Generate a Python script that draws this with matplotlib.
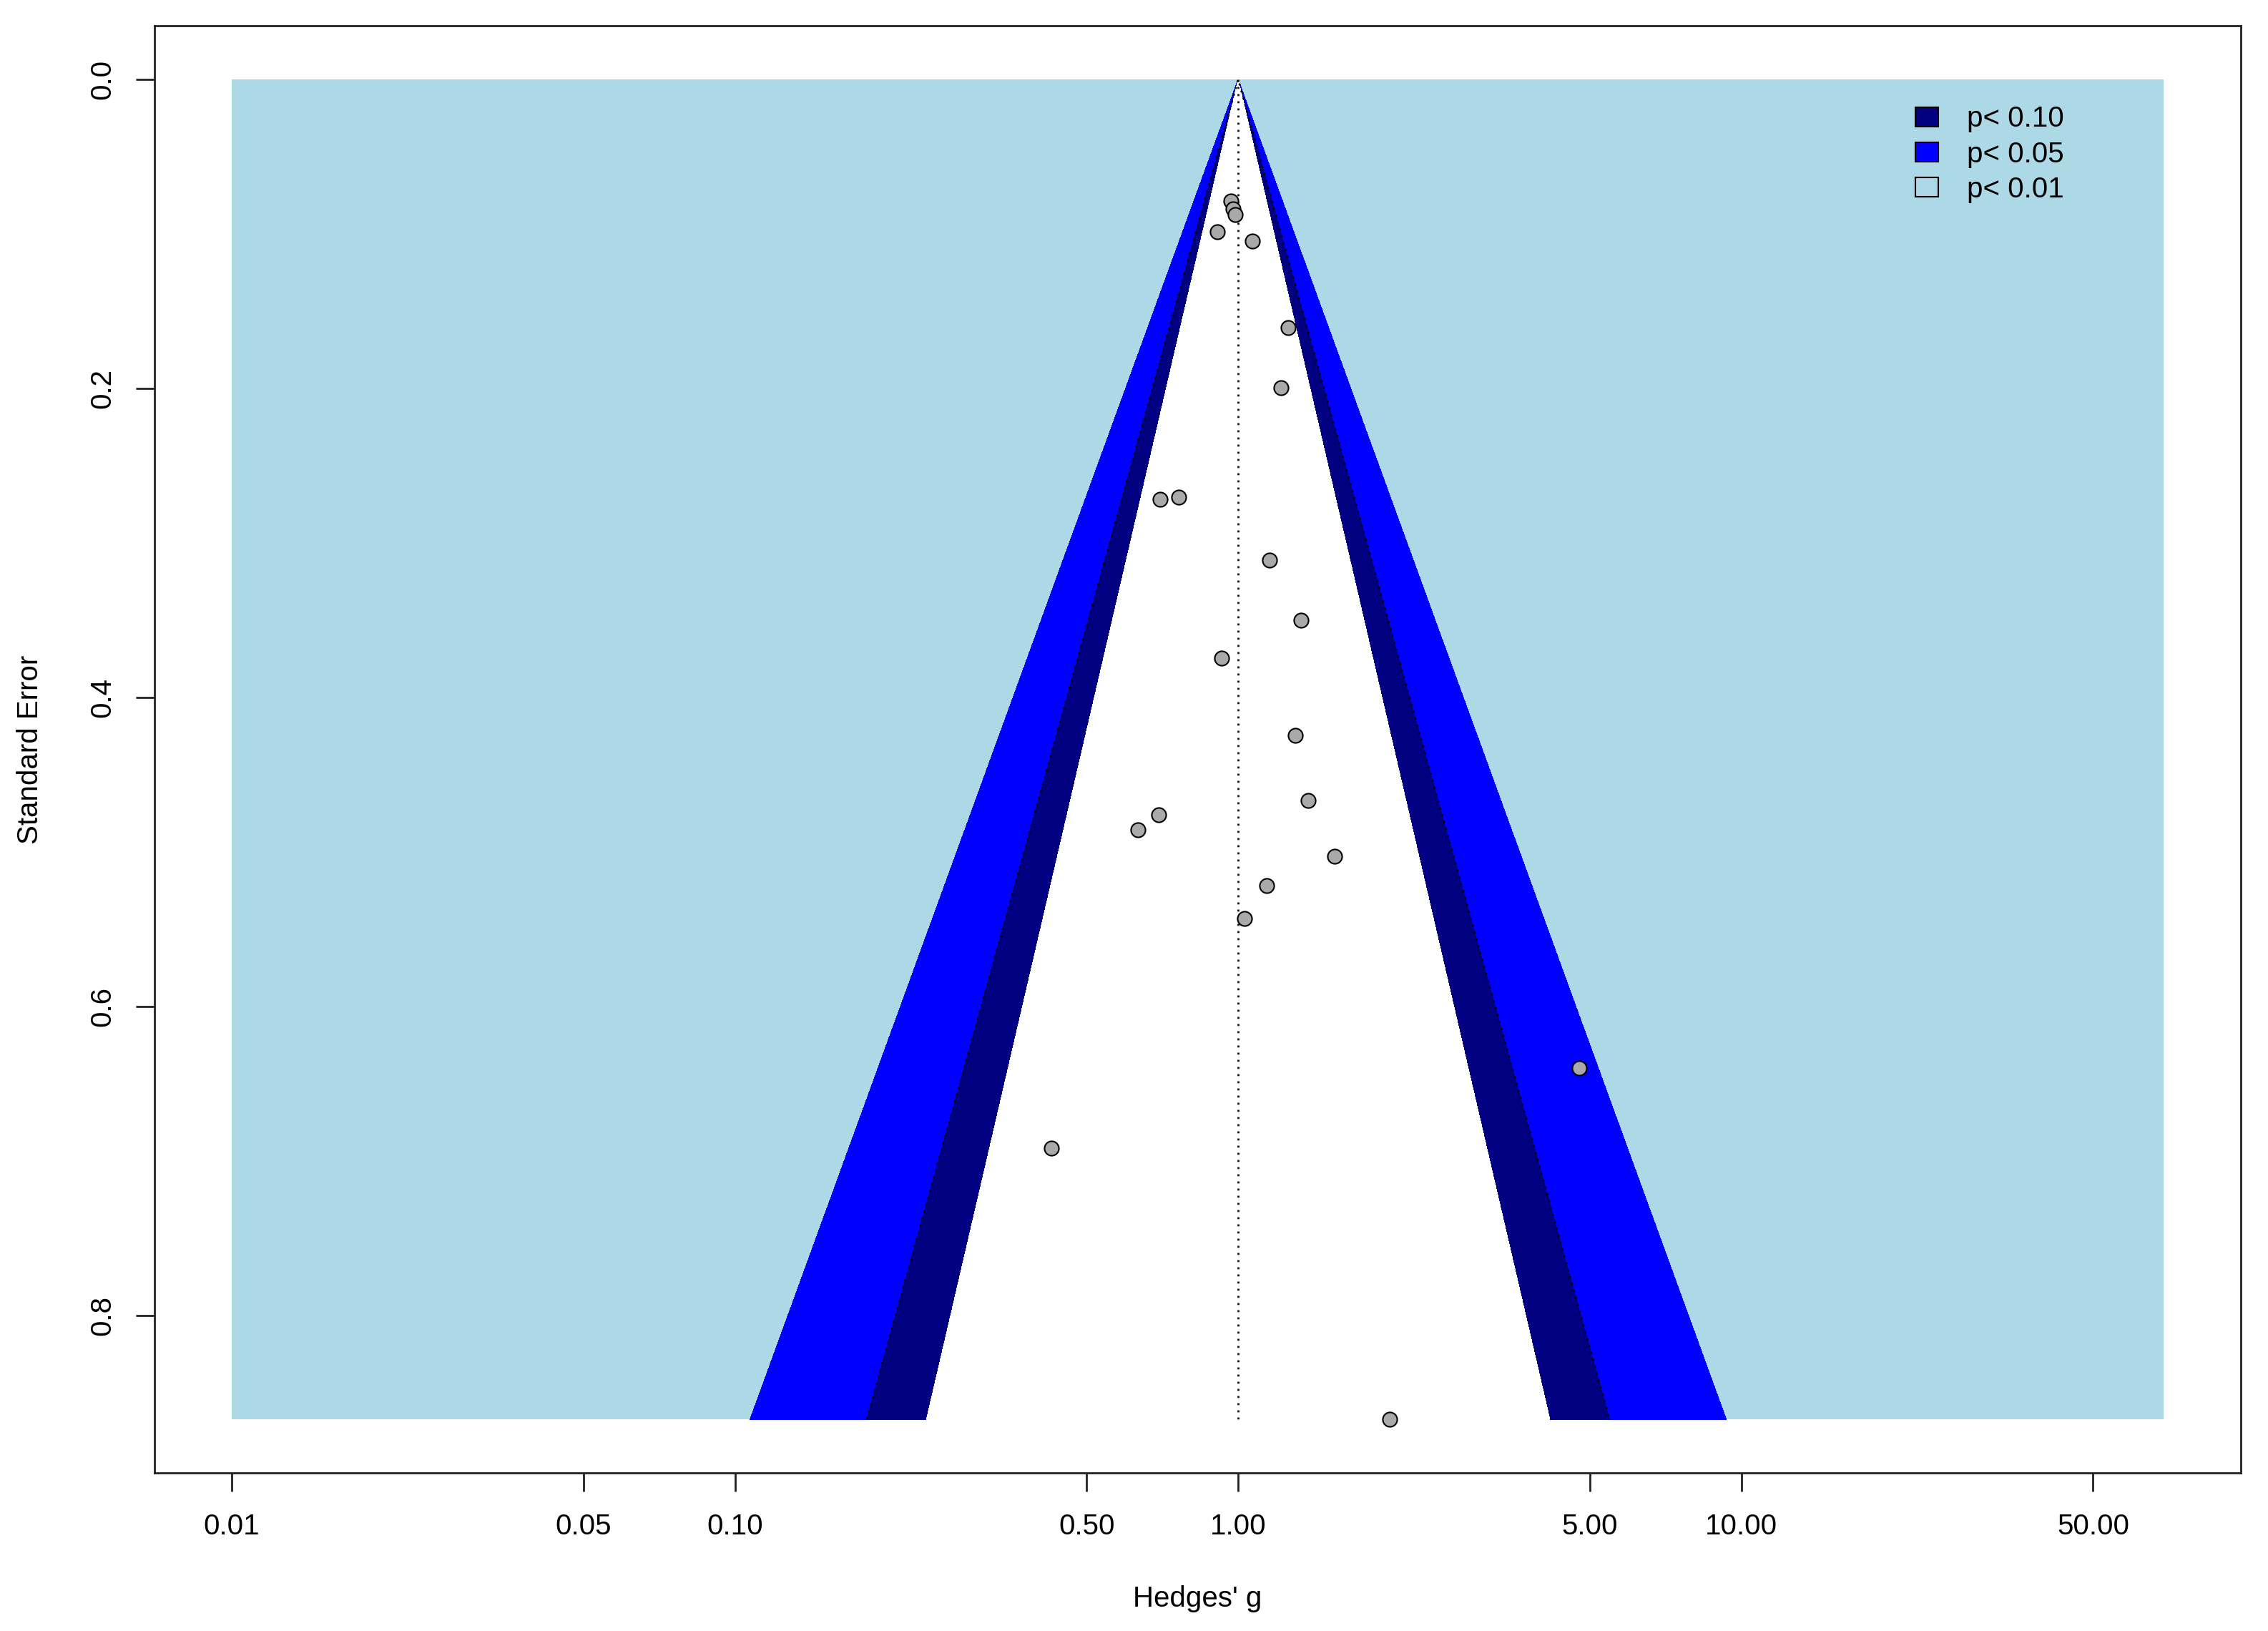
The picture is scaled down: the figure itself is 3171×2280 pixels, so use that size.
import numpy as np
import matplotlib
matplotlib.use("Agg")
import matplotlib.pyplot as plt
from matplotlib.patches import Patch

plt.rcParams['font.family'] = ['Liberation Sans', 'DejaVu Sans']

# study effects (Hedges' g, back-transformed) and their standard errors
hedges_g = [0.968, 0.977, 0.987, 0.908, 1.067, 1.255, 1.218, 0.699, 0.763,
            1.154, 1.331, 0.928, 1.297, 1.377, 0.695, 0.633, 1.555, 1.141,
            1.029, 0.426, 4.765, 2.00]
std_err = [0.0786, 0.0837, 0.0875, 0.0988, 0.1045, 0.1607, 0.1996, 0.2717,
           0.2701, 0.311, 0.3498, 0.3746, 0.4244, 0.4668, 0.4760, 0.4856,
           0.5029, 0.5218, 0.5429, 0.6915, 0.6397, 0.867]

center = 1.0
region_x = [0.01, 69.0]
# z values for the 90 / 95 / 99 % contours
z_levels = [2.576, 1.960, 1.645]
level_colors = ['blue', 'navy', 'white']
legend_labels = ['p< 0.10', 'p< 0.05', 'p< 0.01']
legend_colors = ['navy', 'blue', 'lightblue']
xtick_vals = [0.01, 0.05, 0.10, 0.50, 1.00, 5.00, 10.00, 50.00]
xtick_labels = ['0.01', '0.05', '0.10', '0.50', '1.00', '5.00', '10.00', '50.00']
ytick_vals = [0.0, 0.2, 0.4, 0.6, 0.8]

fs = 29
fig = plt.figure(figsize=(31.71, 22.80), dpi=100)
ax = fig.add_axes([0.0681, 0.0969, 0.9199, 0.8873])
ax.set_xscale('log')

se_max = max(std_err)

# background (p<0.01 area)
ax.fill([region_x[0], region_x[1], region_x[1], region_x[0]],
        [0, 0, se_max, se_max], color='lightblue', lw=0, antialiased=False, zorder=1)

# contour funnels
lc = np.log(center)
for z, col in zip(z_levels, level_colors):
    ax.fill([center, np.exp(lc - z * se_max), np.exp(lc + z * se_max)],
            [0, se_max, se_max], facecolor=col, edgecolor='none', lw=0,
            antialiased=False, zorder=2)

# pseudo confidence lines
dots = (0, (1, 2.6))
ax.plot([np.exp(lc - 1.96 * se_max), center, np.exp(lc + 1.96 * se_max)],
        [se_max, 0, se_max], color='black', lw=2.0, linestyle=dots, zorder=3)
ax.plot([center, center], [0, se_max], color='#111111', lw=2.0,
        linestyle=dots, zorder=3)

ax.scatter(hedges_g, std_err, s=14.5 ** 2, c='#A9A9A9', edgecolors='black',
           linewidths=1.5, zorder=4)

# limits like R (4% padding)
lx0, lx1 = np.log10(region_x[0]), np.log10(region_x[1])
pad = 0.04 * (lx1 - lx0)
ax.set_xlim(10 ** (lx0 - pad), 10 ** (lx1 + pad))
ax.set_ylim(se_max * 1.04, -se_max * 0.04)

ax.set_xticks(xtick_vals)
ax.set_xticklabels(xtick_labels)
ax.minorticks_off()
ax.set_yticks(ytick_vals)
ax.set_yticklabels(['%.1f' % v for v in ytick_vals], rotation=90, va='center')

ax.tick_params(axis='both', length=18.5, width=2, labelsize=fs, color='#222222')
ax.tick_params(axis='x', pad=22)
ax.tick_params(axis='y', pad=20)
for sp in ax.spines.values():
    sp.set_linewidth(2)
    sp.set_color('#222222')

ax.set_xlabel("Hedges' g", fontsize=fs, va='center')
ax.xaxis.set_label_coords(0.5, -0.087)
ax.set_ylabel('Standard Error', fontsize=fs, va='center')
ax.yaxis.set_label_coords(-0.0597, 0.5)

handles = [Patch(facecolor=c, edgecolor='black', linewidth=1.5) for c in legend_colors]
ax.legend(handles, legend_labels, loc='upper left', bbox_to_anchor=(0.8440, 0.945),
          frameon=False, fontsize=fs, handlelength=0.8, handleheight=0.65,
          handletextpad=1.0, labelspacing=0.28, borderpad=0, borderaxespad=0)

fig.savefig('out.png', dpi=100)
